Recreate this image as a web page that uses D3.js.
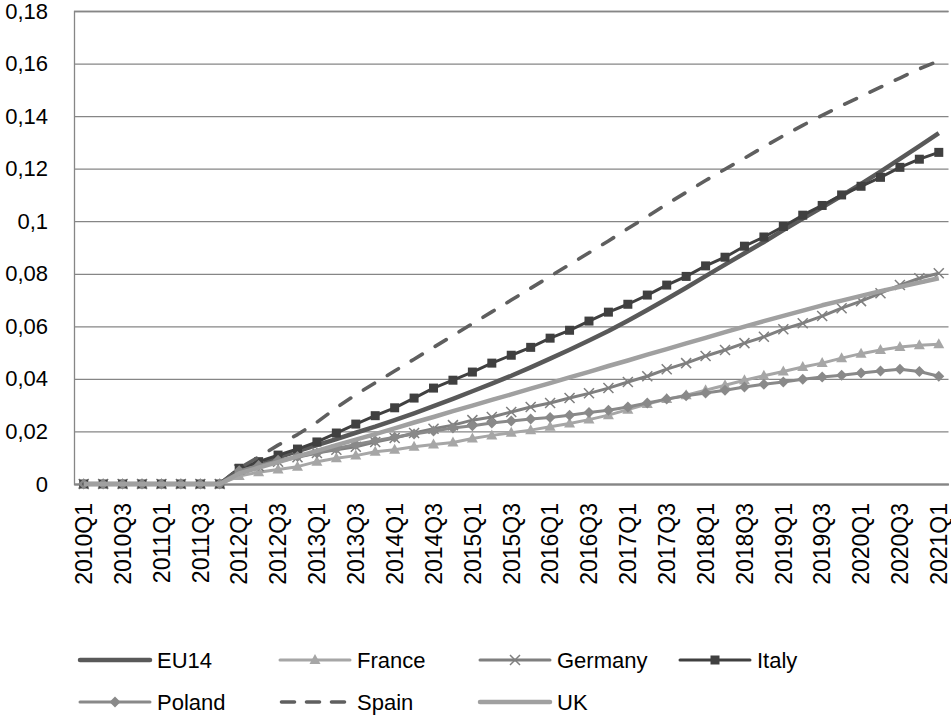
<!DOCTYPE html>
<html>

<head>
  <title>D3 Page</title>
  <script type='text/javascript' src='https://d3js.org/d3.v7.min.js'></script>
  <style type="text/css">
    body {
      margin: 0;
      background: #fff;
    }

    text {
      font-family: "Liberation Sans", Arial, sans-serif;
      fill: #000;
    }
  </style>
</head>

<body>
</body>
<script type='text/javascript'>

  let [w, h] = [951, 715]

  // quarters on the x axis
  var quarters = ["2010Q1", "2010Q2", "2010Q3", "2010Q4", "2011Q1", "2011Q2", "2011Q3", "2011Q4",
    "2012Q1", "2012Q2", "2012Q3", "2012Q4", "2013Q1", "2013Q2", "2013Q3", "2013Q4",
    "2014Q1", "2014Q2", "2014Q3", "2014Q4", "2015Q1", "2015Q2", "2015Q3", "2015Q4",
    "2016Q1", "2016Q2", "2016Q3", "2016Q4", "2017Q1", "2017Q2", "2017Q3", "2017Q4",
    "2018Q1", "2018Q2", "2018Q3", "2018Q4", "2019Q1", "2019Q2", "2019Q3", "2019Q4",
    "2020Q1", "2020Q2", "2020Q3", "2020Q4", "2021Q1"]

  var yTicks = [0, 0.02, 0.04, 0.06, 0.08, 0.1, 0.12, 0.14, 0.16, 0.18]

  var eu14 = [0, 0, 0, 0, 0, 0, 0, 0,
    0.0055, 0.0078, 0.0101, 0.0125, 0.0148, 0.0171, 0.0195, 0.0218, 0.0243, 0.0269, 0.0296, 0.0324,
    0.0353, 0.0382, 0.0412, 0.0444, 0.0477, 0.0511, 0.0546, 0.0582, 0.0621, 0.0662, 0.0704, 0.0747,
    0.0791, 0.0835, 0.0878, 0.0921, 0.0966, 0.101, 0.1053, 0.1097, 0.1142, 0.1189, 0.1237, 0.1286, 0.1335]
  var france = [0, 0, 0, 0, 0, 0, 0, 0,
    0.003, 0.0045, 0.0055, 0.0066, 0.0085, 0.0098, 0.0108, 0.0123, 0.013, 0.0142, 0.015, 0.0158,
    0.0173, 0.0185, 0.0195, 0.0205, 0.0218, 0.023, 0.0245, 0.0262, 0.0283, 0.0304, 0.0323, 0.0338,
    0.0357, 0.0376, 0.0395, 0.0412, 0.0428, 0.0445, 0.046, 0.0479, 0.0496, 0.051, 0.0521, 0.0528, 0.0532]
  var germany = [0, 0, 0, 0, 0, 0, 0, 0,
    0.0055, 0.0068, 0.0085, 0.0102, 0.0118, 0.013, 0.0142, 0.016, 0.0175, 0.0194, 0.021, 0.0224,
    0.0243, 0.0255, 0.0274, 0.0293, 0.0308, 0.0327, 0.0345, 0.0365, 0.0388, 0.041, 0.0437, 0.046,
    0.0487, 0.051, 0.0536, 0.056, 0.0589, 0.0612, 0.0639, 0.0669, 0.0696, 0.0726, 0.0757, 0.0783, 0.0802]
  var italy = [0, 0, 0, 0, 0, 0, 0, 0,
    0.006, 0.0085, 0.011, 0.0133, 0.016, 0.0194, 0.0228, 0.026, 0.029, 0.0327, 0.0365, 0.0395,
    0.0426, 0.046, 0.049, 0.052, 0.0555, 0.0585, 0.062, 0.0654, 0.0684, 0.0719, 0.0757, 0.079,
    0.083, 0.0863, 0.0905, 0.094, 0.098, 0.1023, 0.106, 0.11, 0.1133, 0.1167, 0.1205, 0.1236, 0.1262]
  var poland = [0, 0, 0, 0, 0, 0, 0, 0,
    0.005, 0.007, 0.009, 0.0105, 0.0118, 0.0135, 0.015, 0.0165, 0.0178, 0.019, 0.0202, 0.0213,
    0.0222, 0.0232, 0.024, 0.0247, 0.0253, 0.0262, 0.0272, 0.0281, 0.0293, 0.0308, 0.0323, 0.0336,
    0.0346, 0.0357, 0.0369, 0.038, 0.0388, 0.0399, 0.0407, 0.0414, 0.0422, 0.043, 0.0437, 0.0428, 0.041]
  var spain = [0, 0, 0, 0, 0, 0, 0, 0,
    0.006, 0.0103, 0.0148, 0.0188, 0.0235, 0.029, 0.034, 0.0385, 0.043, 0.0475, 0.052, 0.0565,
    0.061, 0.0655, 0.07, 0.0745, 0.079, 0.0835, 0.088, 0.0925, 0.0972, 0.1018, 0.1065, 0.111,
    0.1155, 0.1198, 0.124, 0.1283, 0.1325, 0.1365, 0.1403, 0.144, 0.1475, 0.151, 0.1545, 0.158, 0.161]
  var uk = [0, 0, 0, 0, 0, 0, 0, 0,
    0.004, 0.0062, 0.0083, 0.0105, 0.0126, 0.0148, 0.0169, 0.019, 0.0212, 0.0234, 0.0255, 0.0277,
    0.0298, 0.032, 0.0341, 0.0363, 0.0384, 0.0406, 0.0427, 0.0449, 0.047, 0.0492, 0.0513, 0.0535,
    0.0556, 0.0578, 0.0599, 0.062, 0.064, 0.066, 0.068, 0.0698, 0.0716, 0.0734, 0.075, 0.0767, 0.0783]

  var seriesNames = ["EU14", "France", "Germany", "Italy", "Poland", "Spain", "UK"]
  var seriesValues = [eu14, france, germany, italy, poland, spain, uk]

  // look of each series
  var styles = {
    EU14: { color: "#595959", width: 4.5, marker: null },
    France: { color: "#a6a6a6", width: 3, marker: "triangle" },
    Germany: { color: "#7f7f7f", width: 3, marker: "cross" },
    Italy: { color: "#404040", width: 3, marker: "square" },
    Poland: { color: "#898989", width: 3, marker: "diamond" },
    Spain: { color: "#5f5f5f", width: 3.6, marker: null, dash: "13,15" },
    UK: { color: "#a0a0a0", width: 4.5, marker: null }
  }

  var margin = { left: 74, right: 2.5, top: 11, bottom: 231 }

  var svg = d3.select("body")
    .append("svg")
    .attr("width", w)
    .attr("height", h);

  var x = d3.scaleBand()
    .domain(quarters)
    .range([margin.left, w - margin.right])
    .padding(0);

  var y = d3.scaleLinear()
    .domain([0, 0.18])
    .range([h - margin.bottom, margin.top]);

  var cx = function (q) { return x(q) + x.bandwidth() / 2 }

  var fmt = function (d) { return String(d).replace(".", ",") }

  //gridlines + y labels
  var yAxis = d3.axisLeft(y)
    .tickValues(yTicks)
    .tickSize(-(w - margin.right - margin.left))
    .tickPadding(26)
    .tickFormat(fmt);

  var gy = svg.append("g")
    .attr("transform", "translate(" + margin.left + ",0)")
    .call(yAxis);
  gy.select(".domain").attr("stroke", "#868686").attr("stroke-width", 1.3);
  gy.selectAll(".tick line").attr("stroke", "#868686").attr("stroke-width", 1.3);
  gy.selectAll(".tick text")
    .style("font-size", "22px")
    .attr("fill", "#000");

  //x axis
  var xAxis = d3.axisBottom(x)
    .tickValues(quarters.filter(function (d, i) { return i % 2 == 0 }))
    .tickSize(0)
    .tickSizeOuter(0);

  var gx = svg.append("g")
    .attr("transform", "translate(0," + y(0) + ")")
    .call(xAxis);
  gx.select(".domain").attr("stroke", "#868686").attr("stroke-width", 1.8);
  gx.selectAll(".tick text")
    .style("font-size", "23px")
    .attr("fill", "#000")
    .attr("text-anchor", "end")
    .attr("transform", "rotate(-90)")
    .attr("x", -19)
    .attr("y", 0)
    .attr("dy", "0.36em");

  var line = d3.line()
    .x(function (d) { return cx(d.q) })
    .y(function (d) { return y(d.v) });

  function drawMarker(g, type, color, px, py) {
    if (type == "triangle") {
      g.append("path")
        .attr("d", "M" + px + "," + (py - 6) + "L" + (px + 5.5) + "," + (py + 4) + "L" + (px - 5.5) + "," + (py + 4) + "Z")
        .attr("fill", color);
    } else if (type == "cross") {
      g.append("path")
        .attr("d", "M" + (px - 5) + "," + (py - 5) + "L" + (px + 5) + "," + (py + 5) + "M" + (px - 5) + "," + (py + 5) + "L" + (px + 5) + "," + (py - 5))
        .attr("stroke", color)
        .attr("stroke-width", 1.5);
    } else if (type == "square") {
      g.append("rect")
        .attr("x", px - 4.5).attr("y", py - 4.5)
        .attr("width", 9).attr("height", 9)
        .attr("fill", color);
    } else if (type == "diamond") {
      g.append("path")
        .attr("d", "M" + px + "," + (py - 5.5) + "L" + (px + 5.5) + "," + py + "L" + px + "," + (py + 5.5) + "L" + (px - 5.5) + "," + py + "Z")
        .attr("fill", color);
    }
  }

  //series
  seriesNames.forEach(function (name, k) {
    var st = styles[name];
    var pts = seriesValues[k].map(function (v, i) { return { q: quarters[i], v: v } });
    var g = svg.append("g").attr("class", "series");
    g.append("path")
      .datum(pts)
      .attr("d", line)
      .attr("fill", "none")
      .attr("stroke", st.color)
      .attr("stroke-width", st.width)
      .attr("stroke-linejoin", "round")
      .attr("stroke-linecap", st.dash ? "round" : "butt")
      .attr("stroke-dasharray", st.dash || null);
    if (st.marker) {
      pts.forEach(function (p) {
        drawMarker(g, st.marker, st.color, cx(p.q), y(p.v));
      });
    }
  });

  //legend
  var legendPos = [[80, 660], [280, 660], [480, 660], [680, 660], [80, 702], [280, 702], [480, 702]]
  var lg = svg.append("g").attr("class", "legend");
  seriesNames.forEach(function (name, k) {
    var st = styles[name];
    var lx = legendPos[k][0], ly = legendPos[k][1];
    lg.append("line")
      .attr("x1", lx + (st.dash ? 1.5 : 0)).attr("x2", lx + 70)
      .attr("y1", ly).attr("y2", ly)
      .attr("stroke", st.color)
      .attr("stroke-width", st.width)
      .attr("stroke-linecap", "round")
      .attr("stroke-dasharray", st.dash ? "13,12" : null);
    if (st.marker) drawMarker(lg, st.marker, st.color, lx + 35, ly);
    lg.append("text")
      .attr("x", lx + 77)
      .attr("y", ly)
      .attr("dy", "0.35em")
      .style("font-size", "22px")
      .text(name);
  });
</script>

</html>
